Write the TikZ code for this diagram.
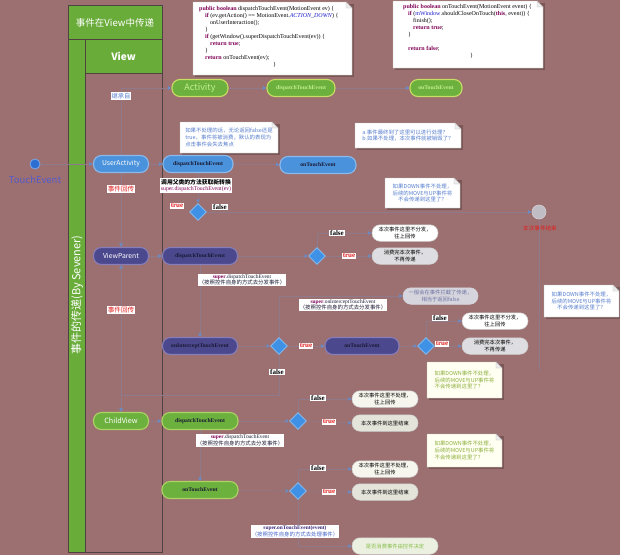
\documentclass[tikz,border=0pt]{standalone}
\usepackage{fontspec}
\setmainfont{Noto Sans CJK SC}
\newfontfamily\codefont{Liberation Serif}
\usetikzlibrary{shapes.geometric,arrows.meta,calc}
\definecolor{bgc}{RGB}{156,112,112}
\definecolor{hgreen}{RGB}{106,172,58}
\definecolor{lanel}{RGB}{80,66,66}
\definecolor{gfill}{RGB}{108,176,62}
\definecolor{gbord}{RGB}{172,212,100}
\definecolor{abord}{RGB}{200,222,100}
\definecolor{bfill}{RGB}{74,146,220}
\definecolor{bbord}{RGB}{140,185,235}
\definecolor{pfill}{RGB}{76,72,142}
\definecolor{pbord}{RGB}{135,125,185}
\definecolor{dfill}{RGB}{62,145,228}
\definecolor{dbord}{RGB}{130,185,240}
\definecolor{cline}{RGB}{143,122,140}
\definecolor{ctip}{RGB}{105,140,200}
\definecolor{kw}{RGB}{127,0,85}
\definecolor{cblue}{RGB}{30,30,200}
\definecolor{notetxt}{RGB}{85,125,205}
\definecolor{greentxt}{RGB}{140,175,60}
\definecolor{shad}{RGB}{122,86,86}
\definecolor{darktxt}{RGB}{25,25,50}
\definecolor{lgreentxt}{RGB}{195,240,145}
\definecolor{redtxt}{RGB}{225,30,30}
\definecolor{tepurple}{RGB}{85,90,205}
\definecolor{tedot}{RGB}{45,110,210}
\definecolor{endfill}{RGB}{192,190,196}
\definecolor{boxgray}{RGB}{222,222,226}
\definecolor{boxcream}{RGB}{246,246,238}
\definecolor{boxcg}{RGB}{228,228,218}
\definecolor{genfill}{RGB}{214,212,220}
\definecolor{gentxt}{RGB}{110,118,165}
\definecolor{consfill}{RGB}{236,240,224}
\definecolor{constxt}{RGB}{135,190,75}
\definecolor{notecream}{RGB}{255,255,242}
\definecolor{suptxt}{RGB}{60,40,120}
\definecolor{supblue}{RGB}{70,100,200}
\pgfdeclarelayer{back}
\pgfdeclarelayer{lines}
\pgfsetlayers{back,lines,main}
\newcommand{\dogear}[5]{%
  \fill[shad] ({#1+1.5},{#2+1.5}) rectangle ({#3+1.5},{#4+1.5});
  \filldraw[fill=#5, draw=gray!50, line width=0.4pt] (#1,#2) -- ({#3-6},#2) -- (#3,{#2+6}) -- (#3,#4) -- (#1,#4) -- cycle;
  \filldraw[draw=gray!50, fill=gray!15, line width=0.4pt] ({#3-6},#2) -- ({#3-6},{#2+6}) -- (#3,{#2+6}) -- cycle;
}
\tikzset{
  pill/.style={rounded corners=8pt, minimum height=17pt, inner sep=1pt, line width=1.1pt, align=center},
  gpill/.style={pill, fill=gfill, draw=gbord},
  bpill/.style={pill, fill=bfill, draw=bbord},
  ppill/.style={pill, fill=pfill, draw=pbord},
  mname/.style={font=\codefont\bfseries\fontsize{5.7}{6}\selectfont, text=darktxt},
  lname/.style={font=\codefont\bfseries\fontsize{5.7}{6}\selectfont, text=lgreentxt},
  bigname/.style={font=\fontsize{6.8}{7}\selectfont, text=white},
  dia/.style={diamond, fill=dfill, draw=dbord, line width=0.9pt, minimum width=17pt, minimum height=17pt, inner sep=0pt},
  conn/.style={draw=cline, line width=0.5pt, -{Latex[length=3.5pt,width=4pt,color=ctip]}},
  tlab/.style={fill=white, inner sep=0.8pt, text=redtxt, font=\codefont\bfseries\fontsize{7}{7}\selectfont},
  flab/.style={fill=white, inner sep=0.8pt, text=black, font=\codefont\bfseries\fontsize{7}{7}\selectfont},
  obox/.style={rounded corners=8pt, minimum width=66pt, minimum height=16.5pt, inner sep=0pt, fill=white, draw=gray!40, line width=0.5pt, align=center, font=\fontsize{5.3}{6.3}\selectfont, text=black},
  slab/.style={fill=white, inner sep=1pt, align=center, font=\fontsize{5.4}{6.6}\selectfont, text=darktxt},
  ntxt/.style={inner sep=0pt, font=\fontsize{5.4}{6.6}\selectfont, text=notetxt},
  codetxt/.style={anchor=north west, inner sep=0pt, align=left, font=\codefont\fontsize{6}{7.05}\selectfont, text=black}
}
\begin{document}
\begin{tikzpicture}[x=1pt,y=-1pt]
\useasboundingbox (0,0) rectangle (620,555);
\begin{pgfonlayer}{back}
\fill[bgc] (0,0) rectangle (620,555);
\fill[hgreen] (68,5) rectangle (162,39);
\fill[hgreen] (85,39) rectangle (162,73);
\fill[hgreen] (68,39) rectangle (85,552);
\draw[lanel, line width=0.5pt] (68,5) rectangle (162,552);
\draw[lanel, line width=0.5pt] (68,39) -- (162,39);
\draw[lanel, line width=0.5pt] (85,39) -- (85,552);
\draw[lanel, line width=0.5pt] (85,73) -- (162,73);
\end{pgfonlayer}

% lane headers
\node[text=white, font=\fontsize{9.5}{10}\selectfont] (hdr) at (115,22.5) {事件在View中传递};
\node[text=white, font=\bfseries\fontsize{10}{10}\selectfont] (hview) at (123.5,56) {View};
\node[text=white, rotate=90, font=\fontsize{11}{11}\selectfont] (band) at (77,295) {事件的传递(By Sevener)};

% code boxes
\dogear{193}{2}{352}{75}{white}
\node[codetxt] (code1) at (199,6) {%
\textcolor{kw}{\textbf{public boolean}} dispatchTouchEvent(MotionEvent ev) \{\\
\hspace*{6pt}\textcolor{kw}{\textbf{if}} (ev.getAction() == MotionEvent.\textcolor{cblue}{\textit{ACTION\_DOWN}}) \{\\
\hspace*{11pt}onUserInteraction();\\
\hspace*{6pt}\}\\
\hspace*{6pt}\textcolor{kw}{\textbf{if}} (getWindow().superDispatchTouchEvent(ev)) \{\\
\hspace*{11pt}\textcolor{kw}{\textbf{return true}};\\
\hspace*{6pt}\}\\
\hspace*{6pt}\textcolor{kw}{\textbf{return}} onTouchEvent(ev);\\
\hspace*{74pt}\}};
\dogear{393}{1}{543}{68}{white}
\node[codetxt] (code2) at (403,4) {%
\textcolor{kw}{\textbf{public boolean}} onTouchEvent(MotionEvent event) \{\\
\hspace*{5pt}\textcolor{kw}{\textbf{if}} (\textcolor{cblue}{mWindow}.shouldCloseOnTouch(\textcolor{kw}{\textbf{this}}, event)) \{\\
\hspace*{10pt}finish();\\
\hspace*{10pt}\textcolor{kw}{\textbf{return true}};\\
\hspace*{5pt}\}\\
\mbox{}\\
\hspace*{5pt}\textcolor{kw}{\textbf{return false}};\\
\hspace*{67pt}\}};

% notes
\dogear{180}{122}{278}{153}{white}
\node[ntxt, align=left] (note1) at (229,137.5) {如果不处理的话，无论返回false还是\\true，事件将被消费，默认的表现为\\点击事件会失去焦点};
\dogear{355}{123}{461}{148}{white}
\node[ntxt, align=left] (note2) at (408,135.5) {a.事件最终到了这里可以进行处理？\\b.如果不处理，本次事件就被销毁了？};
\dogear{385}{178}{460}{208}{white}
\node[ntxt, align=center] (note3) at (422.5,193) {如果DOWN事件不处理，\\后续的MOVE与UP事件将\\不会传递到这里了？};
\dogear{544}{285}{619}{317}{white}
\node[ntxt, align=center] (note4) at (581.5,301) {如果DOWN事件不处理，\\后续的MOVE与UP事件将\\不会传递到这里了？};
\dogear{427}{362}{502}{398}{notecream}
\node[ntxt, align=left, text=greentxt] (note5) at (464.5,380) {如果DOWN事件不处理，\\后续的MOVE与UP事件将\\不会传递到这里了？};
\dogear{427}{434}{502}{467}{notecream}
\node[ntxt, align=left, text=greentxt] (note6) at (464.5,450.5) {如果DOWN事件不处理，\\后续的MOVE与UP事件将\\不会传递到这里了？};

% TouchEvent start
\node[circle, fill=tedot, draw=tedot!60, line width=0.8pt, minimum size=10pt, inner sep=0pt] (te) at (35,164) {};
\node[text=tepurple, font=\fontsize{9.5}{9.5}\selectfont] (telbl) at (35,180) {TouchEvent};

% Activity row
\node[pill, fill=gfill, draw=abord, minimum width=56pt, text=lgreentxt, font=\fontsize{9}{9}\selectfont] (act) at (200,88) {Activity};
\node[pill, fill=gfill, draw=abord, minimum width=68pt, lname] (actD) at (301,88) {dispatchTouchEvent};
\node[pill, fill=gfill, draw=abord, minimum width=52pt, lname] (actT) at (436,88) {onTouchEvent};
\node[fill=white, inner sep=1pt, text=notetxt, font=\fontsize{6.3}{7}\selectfont] (inh) at (121,96) {继承自};

% UserActivity row
\node[bpill, minimum width=55pt, bigname] (ua) at (121,164) {UserActivity};
\node[bpill, minimum width=70pt, mname] (uaD) at (198,164) {dispatchTouchEvent};
\node[bpill, minimum width=76pt, mname] (uaT) at (318,165) {onTouchEvent};
\node[fill=white, inner sep=1pt, align=center, font=\fontsize{5.8}{7}\selectfont] (uaCall) at (196,185.5) {\textbf{调用父类的方法获取新转换}\\[-0.5pt]\textcolor{kw}{\codefont super.dispatchTouchEvent(ev)}};
\node[dia] (uaDia) at (198,212) {};
\node[tlab] (uaTr) at (177,206) {true};
\node[flab] (uaFa) at (220,207) {false};
\node[fill=white, inner sep=1pt, text=redtxt, font=\fontsize{6.6}{7}\selectfont] (back1) at (121,189) {事件回传};
\node[fill=white, inner sep=1pt, text=redtxt, font=\fontsize{6.6}{7}\selectfont] (back2) at (121,310) {事件回传};

% end circle
\node[circle, fill=endfill, draw=endfill!70!white, line width=0.6pt, minimum size=14pt, inner sep=0pt] (endc) at (539,212) {};
\node[text=redtxt, font=\fontsize{5.6}{6}\selectfont] (endlbl) at (540,228) {本次事件结束};
\coordinate (endv) at (539,370);

% ViewParent
\node[ppill, minimum width=55pt, bigname] (vp) at (121,256) {ViewParent};
\node[ppill, minimum width=75pt, mname] (vpD) at (200,256) {dispatchTouchEvent};
\node[dia] (vpDia) at (317,256) {};
\node[flab] (vpFa) at (337,233) {false};
\node[tlab] (vpTr) at (349,256) {true};
\node[obox] (vpB1) at (405,233) {本次事件这里不分发，\\往上回传};
\node[obox, fill=boxgray] (vpB2) at (405,256) {消费完本次事件，\\不再传递};
\node[slab] (vpSup) at (242,280) {\textcolor{kw}{\codefont\bfseries super}{\codefont .dispatchTouchEvent}\\（按照控件自身的方式去分发事件）};
\node[slab] (icpt) at (343,305) {\textcolor{kw}{\codefont\bfseries super}{\codefont .onInterceptTouchEvent}\\（按照控件自身的方式去分发事件）};
\node[obox, fill=genfill, draw=genfill, minimum width=75pt, text=gentxt] (gen) at (440.5,296) {一般会在事件拦截了传递，\\相当于返回false};
\node[ppill, minimum width=75pt, mname] (vpI) at (200,346) {onInterceptTouchEvent};
\node[dia] (vpIDia) at (279,346) {};
\node[tlab] (vpITr) at (306,346) {true};
\node[flab] (vpIFa) at (277,372) {false};
\coordinate (cvturn) at (279,395);
\node[ppill, minimum width=74pt, mname] (vpT) at (362,346) {onTouchEvent};
\node[dia] (vpTDia) at (426,346) {};
\node[flab] (vpTFa) at (440,318) {false};
\node[tlab] (vpTTr) at (442,344) {true};
\node[obox] (vpTB1) at (495,321) {本次事件这里不分发，\\往上回传};
\node[obox, fill=boxgray] (vpTB2) at (495,346) {消费完本次事件，\\不再传递};

% ChildView
\node[gpill, minimum width=55pt, text=white, font=\fontsize{7.2}{7.5}\selectfont] (cv) at (121,421) {ChildView};
\node[gpill, minimum width=76pt, mname] (cvD) at (200,421) {dispatchTouchEvent};
\node[dia] (cvDia) at (298,421) {};
\node[flab] (cvFa) at (318,398) {false};
\node[tlab] (cvTr) at (329,422) {true};
\node[obox, fill=boxcream] (cvB1) at (385,399) {本次事件这里不处理，\\往上回传};
\node[obox, fill=boxcg] (cvB2) at (385,423) {本次事件到这里结束};
\node[slab] (cvSup) at (240,440.5) {\textcolor{kw}{\codefont\bfseries super}{\codefont .dispatchTouchEvent}\\（按照控件自身的方式去分发事件）};
\node[gpill, minimum width=76pt, mname] (cvT) at (200,490) {onTouchEvent};
\node[dia] (cvTDia) at (298,491) {};
\node[flab] (cvTFa) at (318,468) {false};
\node[tlab] (cvTTr) at (329,492) {true};
\node[obox, fill=boxcream] (cvTB1) at (385,469) {本次事件这里不处理，\\往上回传};
\node[obox, fill=boxcg] (cvTB2) at (385,492) {本次事件到这里结束};
\node[slab] (cvTSup) at (295,531.5) {\textcolor{suptxt}{\codefont\bfseries super.onTouchEvent(event)}\\\textcolor{supblue}{（按照控件自身的方式去处理事件）}};
\node[obox, fill=consfill, minimum width=86pt, text=constxt] (cons) at (395,546) {是否消费事件由控件决定};

% connectors
\begin{pgfonlayer}{lines}
\draw[conn] (te) -- (ua);
\draw[conn] (ua) -- (uaD);
\draw[conn] (ua.north) |- (act.west);
\draw[conn] (act) -- (actD);
\draw[conn] (actD) -- (actT);
\draw[conn] (uaD) -- (uaT);
\draw[conn] (uaD.south) -- (uaDia.north);
\draw[conn] (uaDia.east) -- (endc.west);
\draw[cline, line width=0.6pt] (endc.south) -- (endv);
\draw[conn] (ua.south) -- (vp.north);
\draw[conn] (cv.north) -- (vp.south);
\draw[conn] (vp) -- (vpD);
\draw[conn] (vpD) -- (vpDia);
\draw[conn] (vpDia.north) |- (vpB1.west);
\draw[conn] (vpDia.east) -- (vpB2.west);
\draw[conn] (vpD.south) -- (vpI.north);
\draw[conn] (vpI) -- (vpIDia);
\draw[conn] (vpIDia) -- (vpT);
\draw[conn] (vpIDia.north) |- (gen.west);
\draw[conn] (vpIDia.south) -- (cvturn) -| (cv.north);
\draw[conn] (vpT) -- (vpTDia);
\draw[conn] (vpTDia.north) |- (vpTB1.west);
\draw[conn] (vpTDia.east) -- (vpTB2.west);
\draw[conn] (cv) -- (cvD);
\draw[conn] (cvD) -- (cvDia);
\draw[conn] (cvDia.north) |- (cvB1.west);
\draw[conn] (cvDia.east) -- (cvB2.west);
\draw[conn] (cvD.south) -- (cvT.north);
\draw[conn] (cvT) -- (cvTDia);
\draw[conn] (cvTDia.north) |- (cvTB1.west);
\draw[conn] (cvTDia.east) -- (cvTB2.west);
\draw[conn] (cvTDia.south) |- (cons.west);
\end{pgfonlayer}
\end{tikzpicture}
\end{document}
